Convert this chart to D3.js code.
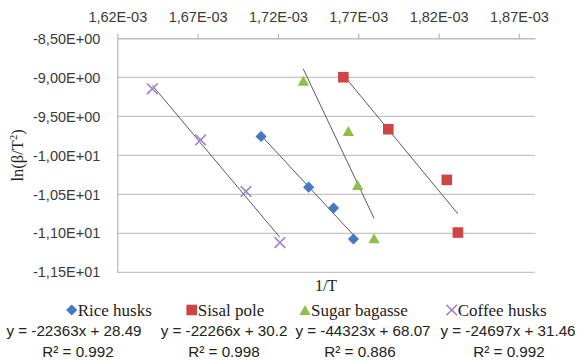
<!DOCTYPE html>
<html>
<head>
<meta charset="utf-8">
<script src="https://cdn.jsdelivr.net/npm/d3@7"></script>
<style>
  html, body { margin: 0; padding: 0; background: #fff; }
  svg { display: block; }
</style>
</head>
<body>
<svg id="chart" width="581" height="360"></svg>
<script>
// ---------- data ----------
const seriesNames = ["Rice husks", "Sisal pole", "Sugar bagasse", "Coffee husks"];
const riceX   = [1.7095e-3, 1.7391e-3, 1.7546e-3, 1.7670e-3];
const riceY   = [-9.756, -10.408, -10.676, -11.073];
const sisalX  = [1.7607e-3, 1.7887e-3, 1.8251e-3, 1.8320e-3];
const sisalY  = [-8.997, -9.664, -10.314, -10.990];
const sugarX  = [1.7358e-3, 1.7638e-3, 1.7696e-3, 1.7798e-3];
const sugarY  = [-9.042, -9.686, -10.381, -11.062];
const coffeeX = [1.6418e-3, 1.6719e-3, 1.7001e-3, 1.7212e-3];
const coffeeY = [-9.145, -9.801, -10.462, -11.119];
const equationLabels = ["y = -22363x + 28.49", "y = -22266x + 30.2", "y = -44323x + 68.07", "y = -24697x + 31.46"];
const r2Labels = ["R² = 0.992", "R² = 0.998", "R² = 0.886", "R² = 0.992"];
const xTicks = [1.62e-3, 1.67e-3, 1.72e-3, 1.77e-3, 1.82e-3, 1.87e-3];
const yTicks = [-8.5, -9.0, -9.5, -10.0, -10.5, -11.0, -11.5];
const xDomain = [1.62e-3, 1.88e-3];
const yDomain = [-11.5, -8.5];
const xTitle = "1/T";

// ---------- styling / layout ----------
const colors = ["#4679C4", "#CF4444", "#8DC046", "#9C82C9"];
const shapes = ["diamond", "square", "triangle", "cross"];
const plot = { left: 117.3, right: 535, top: 38.5, bottom: 272.3 };
const sansFont = "'Liberation Sans', Arial, sans-serif";
const serifFont = "'Liberation Serif', 'Times New Roman', serif";

const svg = d3.select("#chart");
const x = d3.scaleLinear().domain(xDomain).range([plot.left, plot.right]);
const y = d3.scaleLinear().domain(yDomain).range([plot.bottom, plot.top]);

function sci(v) {
  let s = v.toExponential(2);
  let [m, e] = s.split("e");
  let sign = e[0] === "-" ? "-" : "+";
  let digits = e.replace(/[+-]/, "");
  if (digits.length < 2) digits = "0" + digits;
  return m.replace(".", ",") + "E" + sign + digits;
}

// gridlines
svg.append("g").selectAll("line").data(yTicks).join("line")
  .attr("x1", plot.left).attr("x2", plot.right)
  .attr("y1", d => y(d)).attr("y2", d => y(d))
  .attr("stroke", "#C4C4C4").attr("stroke-width", 1.2);

// left axis (no ticks)
const yAxis = d3.axisLeft(y).tickValues(yTicks).tickFormat(sci).tickSize(0).tickPadding(17);
const gy = svg.append("g").attr("transform", `translate(${plot.left},0)`).call(yAxis);
gy.select(".domain").attr("stroke", "#B8B8B8").attr("stroke-width", 1.2);
gy.selectAll("text").attr("font-family", sansFont).attr("font-size", 14.5).attr("fill", "#3a3a3a");

// top axis
const xAxis = d3.axisTop(x).tickValues(xTicks).tickFormat(sci).tickSizeInner(5).tickSizeOuter(0).tickPadding(11.5);
const gx = svg.append("g").attr("transform", `translate(0,${plot.top})`).call(xAxis);
gx.select(".domain").attr("stroke", "#B8B8B8").attr("stroke-width", 1.2);
gx.selectAll(".tick line").attr("stroke", "#B8B8B8").attr("stroke-width", 1.2);
gx.selectAll("text").attr("font-family", sansFont).attr("font-size", 14.5).attr("fill", "#3a3a3a");

// axis titles
svg.append("text").attr("x", 326).attr("y", 291)
  .attr("text-anchor", "middle").attr("font-family", serifFont).attr("font-size", 16).attr("fill", "#222")
  .text(xTitle);
const yt = svg.append("text")
  .attr("transform", `translate(23,${(plot.top + plot.bottom) / 2}) rotate(-90)`)
  .attr("text-anchor", "middle").attr("font-family", serifFont).attr("font-size", 16.5).attr("fill", "#222");
yt.append("tspan").text("ln(β/T");
yt.append("tspan").attr("font-size", 10.5).attr("dy", -6).text("2");
yt.append("tspan").attr("dy", 6).text(")");

// markers
function markerPath(shape) {
  switch (shape) {
    case "diamond": return "M0,-5.6L5.6,0L0,5.6L-5.6,0Z";
    case "square": return "M-5.3,-5.3H5.3V5.3H-5.3Z";
    case "triangle": return "M0,-5L5.6,5L-5.6,5Z";
    case "cross": return "M-5.3,-5.3L5.3,5.3M-5.3,5.3L5.3,-5.3";
  }
}
function drawMarker(g, shape, color) {
  const p = g.append("path").attr("d", markerPath(shape));
  if (shape === "cross") p.attr("fill", "none").attr("stroke", color).attr("stroke-width", 1.6);
  else p.attr("fill", color);
  return p;
}

const allX = [riceX, sisalX, sugarX, coffeeX];
const allY = [riceY, sisalY, sugarY, coffeeY];

// trendlines (least squares on the plotted data)
allX.forEach((xs, i) => {
  const ys = allY[i];
  const mx = d3.mean(xs), my = d3.mean(ys);
  let sxy = 0, sxx = 0;
  xs.forEach((xv, k) => { sxy += (xv - mx) * (ys[k] - my); sxx += (xv - mx) * (xv - mx); });
  const b = sxy / sxx, a = my - b * mx;
  const x0 = d3.min(xs), x1 = d3.max(xs);
  svg.append("line")
    .attr("x1", x(x0)).attr("y1", y(a + b * x0))
    .attr("x2", x(x1)).attr("y2", y(a + b * x1))
    .attr("stroke", "#5a5a5a").attr("stroke-width", 1);
});

// points
allX.forEach((xs, i) => {
  const ys = allY[i];
  xs.forEach((xv, k) => {
    const g = svg.append("g").attr("transform", `translate(${x(xv)},${y(ys[k])})`);
    drawMarker(g, shapes[i], colors[i]);
  });
});

// legend
const legendMarkerX = [71.7, 191.7, 305, 451.7];
const legendRowY = 310;
const eqCenterX = [74, 224, 363, 508];
const r2CenterX = [78, 224, 360, 509];
seriesNames.forEach((name, i) => {
  const g = svg.append("g").attr("transform", `translate(${legendMarkerX[i]},${legendRowY})`);
  drawMarker(g, shapes[i], colors[i]);
  svg.append("text").attr("x", legendMarkerX[i] + 6).attr("y", 315.5)
    .attr("font-family", serifFont).attr("font-size", 17).attr("fill", "#222").text(name);
  svg.append("text").attr("x", eqCenterX[i]).attr("y", 335.5).attr("text-anchor", "middle")
    .attr("font-family", sansFont).attr("font-size", 15.2).attr("fill", "#222").text(equationLabels[i]);
  svg.append("text").attr("x", r2CenterX[i]).attr("y", 356.5).attr("text-anchor", "middle")
    .attr("font-family", sansFont).attr("font-size", 15.2).attr("fill", "#222").text(r2Labels[i]);
});
</script>
</body>
</html>
